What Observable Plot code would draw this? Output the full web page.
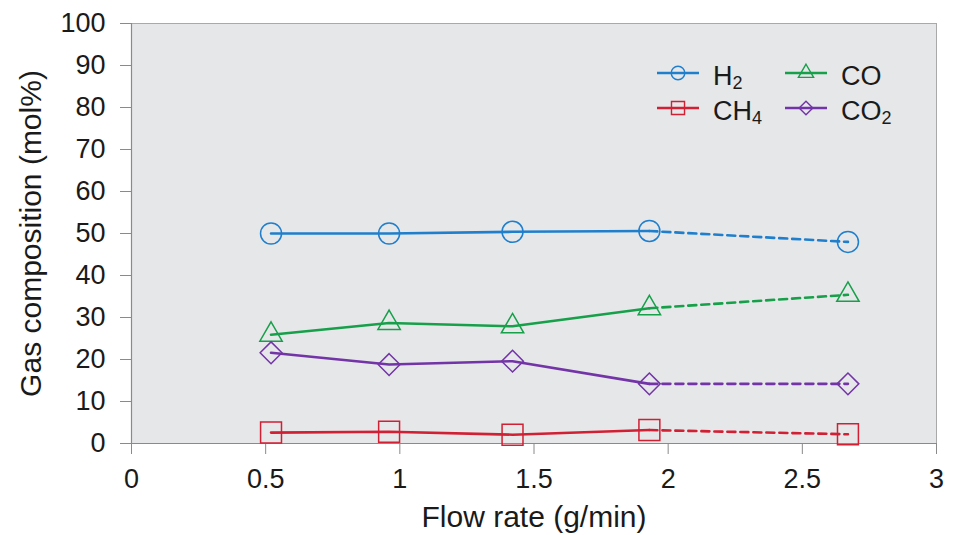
<!DOCTYPE html>
<html>
<head>
<meta charset="utf-8">
<script src="https://cdn.jsdelivr.net/npm/d3@7"></script>
<script src="https://cdn.jsdelivr.net/npm/@observablehq/plot@0.6"></script>
<style>
  html, body { margin: 0; padding: 0; background: #fff; }
  #wrap { position: relative; width: 961px; height: 535px; font-family: "Liberation Sans", Arial, sans-serif; }
  #legend { position: absolute; left: 0; top: 0; pointer-events: none; }
</style>
</head>
<body>
<div id="wrap"></div>
<script>
// ---- data ----
const flowRate = [0.52, 0.96, 1.42, 1.93, 2.67];
const h2  = [50.0, 50.0, 50.4, 50.6, 48.0];
const co  = [25.9, 28.7, 27.9, 32.2, 35.4];
const ch4 = [2.6, 2.8, 2.1, 3.2, 2.2];
const co2 = [21.6, 18.8, 19.6, 14.2, 14.2];
const xTicks = [0, 0.5, 1, 1.5, 2, 2.5, 3];
const yTicks = [0, 10, 20, 30, 40, 50, 60, 70, 80, 90, 100];
const xLabel = "Flow rate (g/min)";
const yLabel = "Gas composition (mol%)";
const seriesNames = ["H2", "CO", "CH4", "CO2"];
const seriesValues = [h2, co, ch4, co2];
const seriesColors = ["#1f7fcc", "#17a04a", "#d11f34", "#7234a6"];
const seriesSymbols = ["circle", "triangle", "square", "diamond2"];
const seriesR = [10.5, 8.3, 11.8, 9.8];
const legendLabels = [["H", "2"], ["CO", ""], ["CH", "4"], ["CO", "2"]];

const rows = [];
seriesNames.forEach((name, s) => {
  seriesValues[s].forEach((v, i) => rows.push({series: name, i, x: flowRate[i], y: v}));
});

const font = "'Liberation Sans', Arial, sans-serif";
const marks = [
  Plot.frame({fill: "#e6e7e9", stroke: "#a9a9a9"}),
  Plot.ruleX([0], {stroke: "#8a8a8a", strokeWidth: 1.2}),
  Plot.ruleY([0], {stroke: "#8a8a8a", strokeWidth: 1.2}),
  Plot.axisX({ticks: xTicks, tickFormat: d => String(d), tickSize: 11, tickPadding: 14, fontSize: 27,
              stroke: "#8a8a8a", fill: "#1a1a1a", label: null}),
  Plot.axisY({ticks: yTicks, tickFormat: d => String(d), tickSize: 11, tickPadding: 15, fontSize: 27,
              stroke: "#8a8a8a", fill: "#1a1a1a", label: null}),
  Plot.text([xLabel], {text: d => d, frameAnchor: "bottom", lineAnchor: "middle", textAnchor: "middle", dy: 74, fontSize: 30, fill: "#1a1a1a"}),
  Plot.text([yLabel], {text: d => d, frameAnchor: "left", lineAnchor: "middle", textAnchor: "middle", dx: -100, rotate: -90, fontSize: 30, fill: "#1a1a1a"})
];
seriesNames.forEach((name, s) => {
  const d = rows.filter(r => r.series === name);
  marks.push(Plot.line(d.filter(r => r.i <= 3), {x: "x", y: "y", stroke: seriesColors[s], strokeWidth: 2.6}));
  marks.push(Plot.line(d.filter(r => r.i >= 3), {x: "x", y: "y", stroke: seriesColors[s], strokeWidth: 2.6, strokeDasharray: "8,5"}));
  marks.push(Plot.dot(d, {x: "x", y: "y", symbol: seriesSymbols[s], r: seriesR[s], stroke: seriesColors[s], fill: "none", strokeWidth: 1.5}));
});

const chart = Plot.plot({
  width: 961,
  height: 535,
  marginLeft: 131,
  marginRight: 25,
  marginTop: 23,
  marginBottom: 92,
  style: {fontFamily: font, background: "#fff", overflow: "visible"},
  x: {domain: [0, 3]},
  y: {domain: [0, 100]},
  marks
});
const wrap = document.getElementById("wrap");
wrap.appendChild(chart);

// ---- legend overlay ----
const leg = d3.select(wrap).append("svg").attr("id", "legend").attr("width", 961).attr("height", 535);
const legendPos = [[657, 73], [785, 73], [657, 108], [785, 108]];
const legendSymbols = [d3.symbolCircle, d3.symbolTriangle, d3.symbolSquare, d3.symbolDiamond2];
const legendSizes = [145, 100, 170, 120];
seriesNames.forEach((name, s) => {
  const [lx, ly] = legendPos[s];
  const g = leg.append("g").attr("transform", `translate(${lx},${ly})`);
  g.append("line").attr("x1", 0).attr("x2", 42).attr("y1", 0).attr("y2", 0)
    .attr("stroke", seriesColors[s]).attr("stroke-width", 2.6);
  g.append("path").attr("transform", "translate(21,0)")
    .attr("d", d3.symbol(legendSymbols[s], legendSizes[s])())
    .attr("fill", "none").attr("stroke", seriesColors[s]).attr("stroke-width", 1.4);
  const t = g.append("text").attr("x", 56).attr("y", 12)
    .attr("font-family", font).attr("font-size", 27).attr("fill", "#1a1a1a");
  t.append("tspan").text(legendLabels[s][0]);
  if (legendLabels[s][1]) t.append("tspan").attr("font-size", 18).attr("dy", 4).text(legendLabels[s][1]);
});
</script>
</body>
</html>
